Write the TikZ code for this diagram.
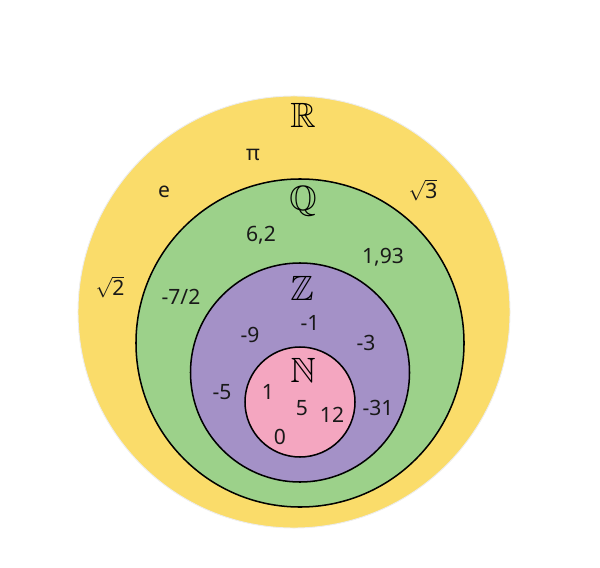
\documentclass[tikz,border=0pt]{standalone}
\usepackage{amssymb}
\usepackage{fontspec}
\setmainfont{Noto Sans}
\definecolor{realc}{HTML}{FADC6A}
\definecolor{ratc}{HTML}{9CD18A}
\definecolor{intc}{HTML}{A491C7}
\definecolor{natc}{HTML}{F4A6C0}

\begin{document}
\begin{tikzpicture}[x=0.03cm, y=-0.03cm, line width=1.3pt,
    set/.style={circle, draw=black, inner sep=0pt},
    num/.style={font=\fontsize{18}{21}\selectfont, text=black!90},
    bb/.style={font=\fontsize{30}{33}\selectfont}]
  \useasboundingbox (0,0) rectangle (600,567);
  % nested sets, outermost first
  \node[set, draw=black!7, line width=0.8pt, fill=realc,
        minimum size=12.96cm] (R) at (294,312) {};
  \node[set, fill=ratc, minimum size=9.84cm] (Q) at (300,343) {};
  \node[set, fill=intc, minimum size=6.57cm] (Z) at (300,372.5) {};
  \node[set, fill=natc, minimum size=3.3cm] (N) at (300,402) {};
  % set names
  \foreach \nm/\x/\y in {R/303/115, Q/303/201, Z/302/288, N/303/370}{
    \node[bb] (lbl\nm) at (\x,\y) {$\mathbb{\nm}$};
  }
  % elements
  \foreach \nm/\x/\y/\txt in {pi/253/155/π, e/164/192/e,
      rtthree/423/190/{$\sqrt{\mbox{3}}$}, rttwo/110/287/{$\sqrt{\mbox{2}}$},
      sixtwo/261/235/{6,2}, onenine/383/257/{1,93}, mseven/181/297/{-7/2},
      mone/310/323/-1, mnine/250/335/-9, mthree/366/343/-3,
      mfive/222/392/-5, mthirtyone/378/408/-31,
      one/268/392/1, five/302/408/5, twelve/332/415/12, zero/280/437/0}{
    \node[num] (\nm) at (\x,\y) {\txt};
  }
\end{tikzpicture}
\end{document}
